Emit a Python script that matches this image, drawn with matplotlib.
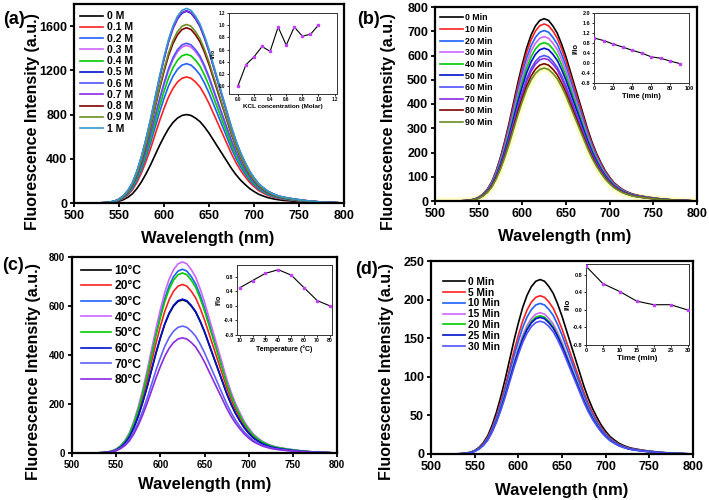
import numpy as np
import matplotlib.pyplot as plt
from matplotlib.ticker import FormatStrFormatter

plt.rcParams['font.family'] = ['Liberation Sans', 'DejaVu Sans']
plt.rcParams['font.weight'] = 'bold'
plt.rcParams['axes.labelweight'] = 'bold'
plt.rcParams['mathtext.default'] = 'bf'

# --- data -----------------------------------------------------------------
# normalised emission profile (peak = 1), 500-800 nm every 5 nm
wavelength = np.arange(500, 805, 5)
profile = [0, 0, 0, 0, 0,
           0.0005, 0.001, 0.002, 0.005, 0.01, 0.02, 0.038, 0.065, 0.105, 0.165,
           0.24, 0.33, 0.43, 0.54, 0.65, 0.75, 0.84, 0.91, 0.96, 0.99,
           1.0,
           0.99, 0.96, 0.92, 0.86, 0.79, 0.71, 0.63, 0.55, 0.47, 0.39,
           0.32, 0.26, 0.21, 0.165, 0.13, 0.10, 0.08, 0.062, 0.05, 0.04,
           0.033, 0.028, 0.024, 0.02, 0.017, 0.014, 0.011, 0.009, 0.007, 0.005,
           0.004, 0.003, 0.002, 0.001, 0.0]

# (a) KCl concentration
kcl_labels = ['0 M', '0.1 M', '0.2 M', '0.3 M', '0.4 M', '0.5 M',
              '0.6 M', '0.7 M', '0.8 M', '0.9 M', '1 M']
kcl_peaks = [800, 1140, 1260, 1425, 1345, 1735, 1445, 1740, 1585, 1615, 1760]
kcl_colors = ['black', '#ff2020', '#2060ff', '#cc66ff', '#00cc00', '#0010cc',
              '#5050ff', '#8a2be2', '#800000', '#6b8e23', '#3399cc']
kcl_conc = [0.0, 0.1, 0.2, 0.3, 0.4, 0.5, 0.6, 0.7, 0.8, 0.9, 1.0]
kcl_ratio = [0.0, 0.35, 0.48, 0.65, 0.57, 0.97, 0.67, 0.97, 0.82, 0.85, 1.0]

# (b) time, first series
tb_labels = ['0 Min', '10 Min', '20 Min', '30 Min', '40 Min', '50 Min',
             '60 Min', '70 Min', '80 Min', '90 Min']
tb_peaks = [752, 730, 703, 678, 653, 630, 600, 588, 566, 548]
tb_colors = ['black', '#ff2020', '#2060ff', '#cc66ff', '#00cc00', '#0010cc',
             '#5050ff', '#8a2be2', '#800000', '#6b8e23']
tb_time = [0, 10, 20, 30, 40, 50, 60, 70, 80, 90]
tb_ratio = [1.0, 0.9, 0.76, 0.64, 0.51, 0.4, 0.25, 0.19, 0.08, -0.02]

# (c) temperature
temp_labels = ['10°C', '20°C', '30°C', '40°C', '50°C', '60°C', '70°C', '80°C']
temp_peaks = [625, 688, 750, 780, 735, 628, 518, 470]
temp_colors = ['black', '#ff2020', '#2060ff', '#cc66ff', '#00cc00', '#0010cc',
               '#6060ff', '#8a2be2']
temp_x = [10, 20, 30, 40, 50, 60, 70, 80]
temp_ratio = [0.5, 0.7, 0.9, 1.0, 0.85, 0.5, 0.15, 0.0]

# (d) time, second series
td_labels = ['0 Min', '5 Min', '10 Min', '15 Min', '20 Min', '25 Min', '30 Min']
td_peaks = [226, 205, 195, 183, 179, 177, 172]
td_colors = ['black', '#ff2020', '#2060ff', '#cc66ff', '#00cc00', '#0010cc',
             '#5050ff']
td_time = [0, 5, 10, 15, 20, 25, 30]
td_ratio = [1.0, 0.6, 0.42, 0.2, 0.12, 0.12, 0.0]

W, H = 709, 500
fig = plt.figure(figsize=(W / 100, H / 100), dpi=100)


def rect(left, right, top, bottom):
    return [left / W, 1 - bottom / H, (right - left) / W, (bottom - top) / H]


def main_panel(box, peaks, labels, colors, ylim, yticks, tick_fs, leg_fs,
               leg_spacing, leg_handle, leg_anchor, halo=False):
    ax = fig.add_axes(rect(*box))
    prof = np.array(profile)
    if halo:
        ax.plot(wavelength, prof * peaks[-1], color='#ffffc8', lw=5, zorder=1)
    for pk, lab, col in zip(peaks, labels, colors):
        ax.plot(wavelength, prof * pk, color=col, lw=1.2, label=lab, zorder=2)
    ax.set_xlim(500, 800)
    ax.set_ylim(*ylim)
    ax.set_xticks(range(500, 801, 50))
    ax.set_yticks(yticks)
    for s in ax.spines.values():
        s.set_linewidth(1.6)
    ax.tick_params(direction='out', length=3, width=1.3, labelsize=tick_fs, pad=2)
    for t in ax.get_xticklabels() + ax.get_yticklabels():
        t.set_fontweight('bold')
    ax.legend(loc='upper left', bbox_to_anchor=leg_anchor, frameon=False,
              labelspacing=leg_spacing, handlelength=leg_handle,
              handletextpad=0.3, borderaxespad=0,
              prop={'weight': 'bold', 'size': leg_fs})
    return ax


def inset(box, x, y, xlim, ylim, xticks, yticks, xfmt, yfmt, xlabel, ylabel,
          tick_fs, lab_fs):
    ax = fig.add_axes(rect(*box))
    ax.plot(x, y, color='black', lw=0.8, marker='s', ms=2,
            mfc='#c040ff', mec='#c040ff', zorder=3)
    ax.set_xlim(*xlim)
    ax.set_ylim(*ylim)
    ax.set_xticks(xticks)
    ax.set_yticks(yticks)
    ax.xaxis.set_major_formatter(FormatStrFormatter(xfmt))
    ax.yaxis.set_major_formatter(FormatStrFormatter(yfmt))
    for s in ax.spines.values():
        s.set_linewidth(0.7)
        s.set_color('#333333')
    ax.tick_params(direction='out', length=1.5, width=0.6, labelsize=tick_fs, pad=1)
    for t in ax.get_xticklabels() + ax.get_yticklabels():
        t.set_fontweight('bold')
    ax.set_xlabel(xlabel, fontsize=lab_fs, fontweight='bold', labelpad=1)
    ax.set_ylabel(ylabel, fontsize=lab_fs, fontweight='bold', labelpad=1)
    return ax


# (a)
main_panel((74, 344, 4, 203), kcl_peaks, kcl_labels, kcl_colors, (0, 1800),
           range(0, 1601, 400), 9, 7.5, 0.12, 2.3, (0.005, 0.985))
inset((229, 337, 13, 94), kcl_conc, kcl_ratio, (-0.11, 1.23), (-0.13, 1.2),
      np.arange(0, 1.21, 0.2), np.arange(0, 1.21, 0.2), '%.1f', '%.1f',
      'KCL concentration (Molar)', 'I/I$_0$', 3.3, 4.6)

# (b)
main_panel((435, 697, 7, 201), tb_peaks, tb_labels, tb_colors, (0, 800),
           range(0, 801, 100), 9, 6.3, 0.3, 2.6, (0.005, 0.985), halo=True)
inset((594, 689, 13, 83), tb_time, tb_ratio, (0, 100), (-0.8, 2.0),
      range(0, 101, 20), np.arange(-0.8, 2.01, 0.4), '%d', '%.1f',
      'Time (min)', 'I/Io', 4, 5.5)

# (c)
main_panel((72, 337, 257, 453), temp_peaks, temp_labels, temp_colors, (0, 800),
           range(0, 801, 200), 7, 8.7, 0.3, 2.5, (0.015, 0.985))
inset((237, 332, 265, 335), temp_x, temp_ratio, (8, 81.5), (-0.8, 1.13),
      range(10, 81, 10), np.arange(-0.8, 0.81, 0.4), '%d', '%.1f',
      'Temperature (°C)', 'I/Io', 3.8, 5)

# (d)
main_panel((431, 693, 261, 454), td_peaks, td_labels, td_colors, (0, 250),
           range(0, 251, 50), 9, 7.4, 0.08, 2.1, (0.03, 0.94))
inset((586, 689, 264, 345), td_time, td_ratio, (0, 30.4), (-0.8, 1.05),
      range(0, 31, 5), np.arange(-0.8, 0.81, 0.4), '%d', '%.1f',
      'Time (min)', 'I/Io', 4, 5.8)

# axis titles and panel letters
ylab = 'Fluorescence Intensity (a.u.)'
for x, y in [(33, 122), (389, 122), (34, 372), (386, 372)]:
    fig.text(x / W, 1 - y / H, ylab, rotation=90, ha='center', va='center',
             fontsize=11.5, fontweight='bold')
for x, y in [(208, 238), (565, 237), (205, 485), (562, 490)]:
    fig.text(x / W, 1 - y / H, 'Wavelength (nm)', ha='center', va='center',
             fontsize=12, fontweight='bold')
for x, y, s in [(14, 19, '(a)'), (369, 19, '(b)'), (13, 266, '(c)'), (366, 269, '(d)')]:
    fig.text(x / W, 1 - y / H, s, ha='center', va='center',
             fontsize=13, fontweight='bold')

fig.savefig('out.png', dpi=100)
